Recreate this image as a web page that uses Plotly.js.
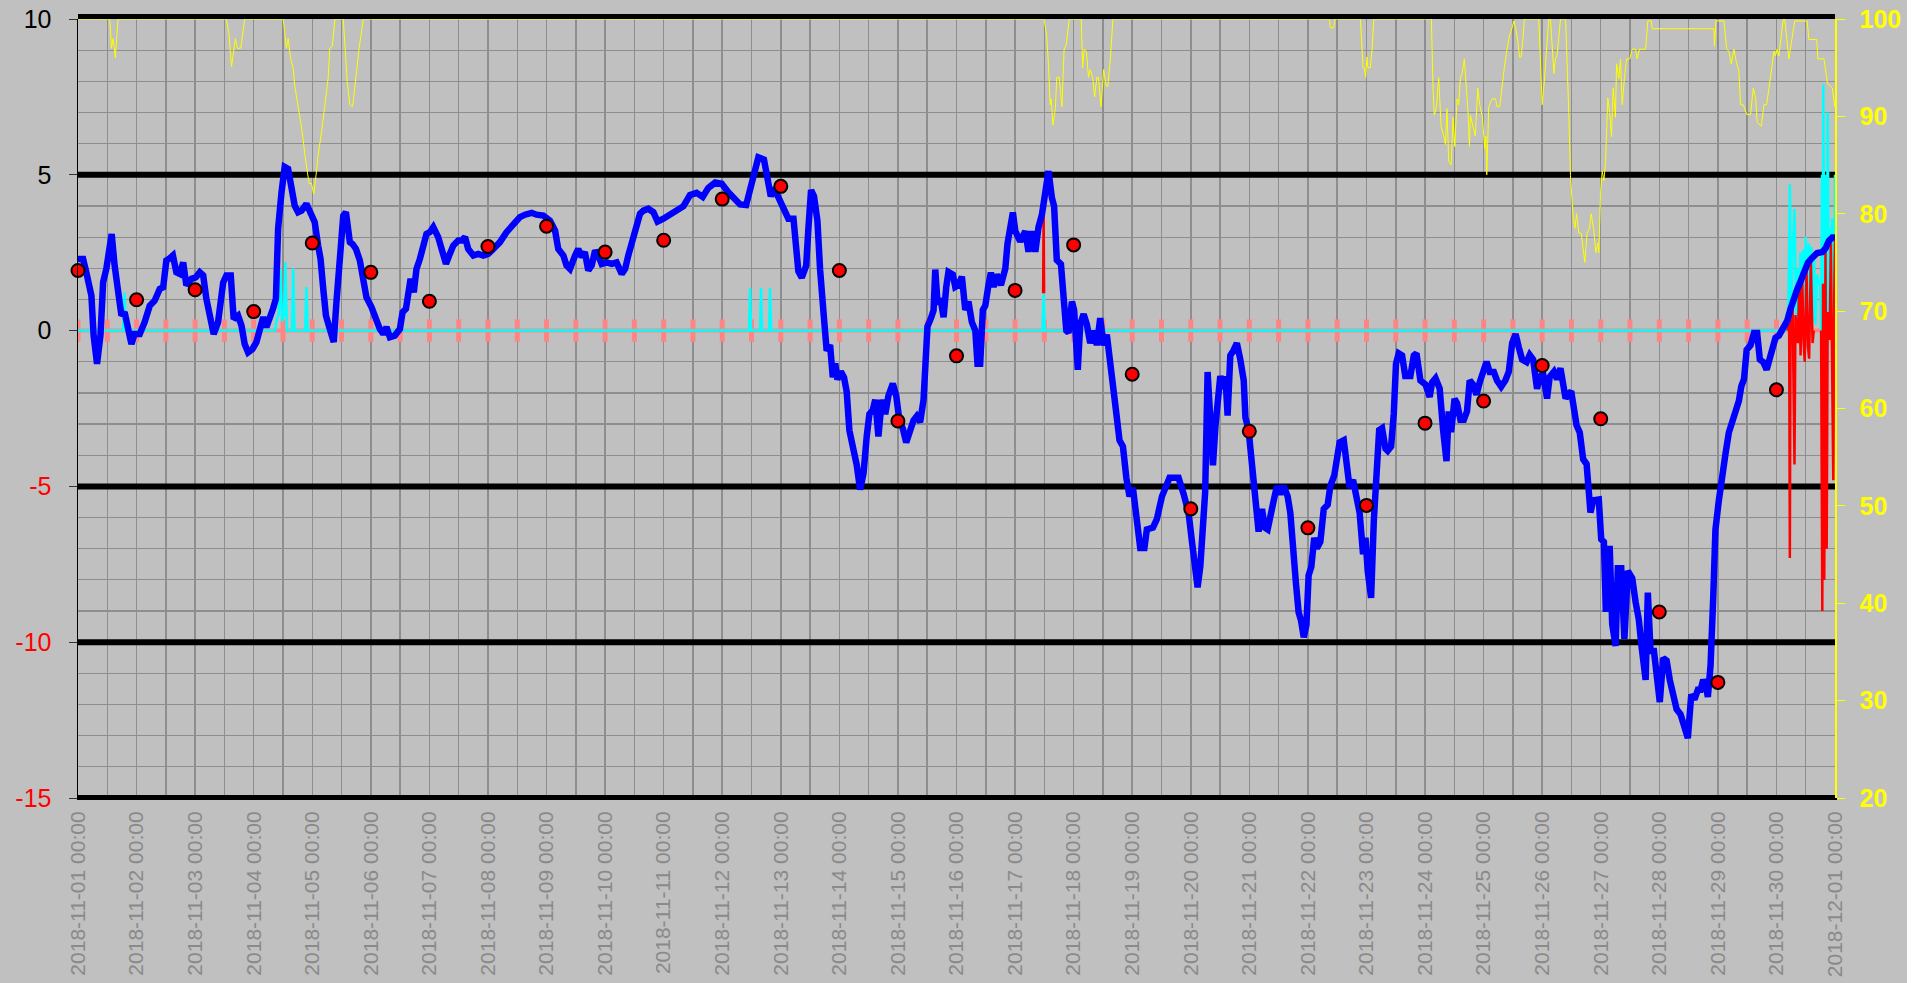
<!DOCTYPE html>
<html><head><meta charset="utf-8">
<script src="https://cdn.plot.ly/plotly-3.0.1.min.js"></script>
<style>html,body{margin:0;padding:0;background:#fff;}#chart{width:1907px;height:983px;}</style>
</head><body><div id="chart"></div><script>
// ---- DATA (hours since 2018-11-01 00:00) ----
const blueH = [0.0,2.1,3.4,5.5,6.4,7.8,9.2,10.3,11.6,13.0,13.8,15.0,16.4,17.8,19.1,20.5,21.9,23.2,25.3,27.3,29.4,31.4,33.5,34.9,36.2,37.3,38.9,40.3,41.7,43.1,44.4,46.5,48.3,49.9,51.3,52.6,54.0,55.6,57.4,59.5,60.8,62.6,63.8,65.6,67.0,68.3,69.7,71.5,73.1,74.5,75.9,77.2,78.6,79.9,81.1,82.0,83.4,84.7,86.1,87.5,88.8,90.2,91.6,93.6,95.0,97.0,98.4,99.4,100.5,101.6,103.2,104.8,105.9,107.6,108.7,109.8,111.4,112.5,113.9,115.5,116.9,118.2,120.3,122.3,123.7,125.1,126.4,127.8,129.8,131.9,133.0,134.4,135.3,136.3,137.6,138.7,140.1,141.5,142.8,144.2,145.6,147.6,149.0,150.8,152.1,153.8,155.8,157.2,158.6,159.9,162.0,164.0,166.1,168.1,170.2,172.9,175.6,178.4,181.1,183.2,185.9,187.9,190.7,193.4,195.5,196.8,197.5,198.9,200.2,201.6,203.7,205.0,206.4,207.7,209.1,210.5,211.9,213.2,214.6,216.6,218.7,220.7,222.8,224.2,225.5,227.6,228.9,230.3,231.7,233.7,235.8,237.5,239.9,242.6,245.3,248.1,250.8,253.5,256.0,258.3,261.1,263.8,266.5,269.3,271.3,273.8,275.4,277.0,278.8,281.1,282.5,283.9,285.2,287.7,289.8,291.1,293.2,294.3,295.2,296.6,298.4,299.3,300.4,301.6,303.0,304.1,304.8,305.7,306.8,308.2,309.3,310.3,311.2,312.6,313.9,315.0,316.1,317.5,319.1,320.5,321.9,323.2,324.3,325.7,326.7,328.0,329.4,330.8,332.1,333.9,335.3,336.6,338.0,339.4,340.7,342.4,343.7,345.1,346.5,347.3,348.1,349.5,350.6,351.3,352.2,353.6,354.7,355.8,356.7,358.5,359.5,360.8,362.2,363.6,364.9,366.3,367.7,368.6,369.7,370.8,371.8,373.1,374.1,375.2,376.5,378.2,380.0,380.9,382.0,383.1,384.1,386.1,388.2,389.5,390.9,392.3,393.6,395.0,396.3,397.7,399.1,400.0,401.1,402.8,403.9,405.0,405.9,407.3,408.2,409.1,409.7,410.7,412.1,413.4,414.8,416.4,417.5,418.9,420.3,421.6,423.0,424.1,425.5,426.8,428.2,429.6,430.9,432.3,433.7,435.3,437.0,438.0,440.5,442.1,444.2,445.6,447.3,449.0,451.0,453.1,455.1,456.5,457.4,458.8,459.9,461.0,461.9,462.9,464.0,465.1,466.1,467.0,468.1,469.5,470.2,471.1,472.2,473.4,474.9,476.3,477.7,478.4,479.7,480.7,481.8,482.9,483.8,485.2,486.3,487.5,488.6,490.0,491.3,492.7,494.1,495.7,496.8,497.9,499.1,500.2,501.2,502.3,503.4,504.3,505.4,506.6,507.7,509.1,510.5,512.1,513.2,514.8,515.9,517.0,518.7,520.0,521.1,522.5,523.9,525.2,526.6,527.6,528.5,529.9,531.0,532.1,533.2,534.4,535.8,536.7,538.1,539.2,540.1,541.2,542.6,543.9,546.0,547.4,548.5,550.1,552.2,553.9,554.9,556.3,558.0,559.4,560.8,561.7,562.7,564.1,565.1,566.5,567.9,569.2,570.3,571.7,573.1,574.4,575.8,577.2,578.5,580.2,581.5,583.2,584.9,586.3,587.7,589.1,590.4,591.8,593.6,594.9,596.3,597.9,599.0,600.4,602.0,603.1,604.8,606.1,607.5,608.6,609.6,610.9,611.9,613.0,614.1,615.4,616.8,618.2,619.1,619.8,620.9,622.3,623.2,624.2,625.3,626.1,626.9,627.7,628.7,630.1,631.0,632.4,633.7,635.1,636.9,638.3,639.6,640.7,642.4,643.3,644.4,645.8,646.9,648.2,649.6,651.0,652.3,653.7,655.1,656.7,658.1,659.7,661.1,662.4,663.8,664.9,666.0,667.0,667.9,669.0,670.1,671.0,672.4,673.8,675.1,676.5,678.6,680.6,681.6,682.7,683.8,685.4,686.8,688.1,689.2,690.6,692.0,693.3,694.7,695.6,697.0,699.1,700.4,701.8,703.2,704.5,706.2,707.5,708.9,710.7,712.7,714.8,716.2,717.5,718.9,720.0];
const blueV = [2.30,2.30,1.87,1.12,-0.16,-1.07,-0.16,1.55,1.98,2.62,3.10,2.09,1.12,0.48,0.59,0.05,-0.43,-0.11,-0.11,0.27,0.80,0.96,1.34,1.39,2.25,2.30,2.41,1.87,1.82,2.19,1.45,1.66,1.71,1.87,1.77,1.02,0.37,-0.11,0.27,1.55,1.77,1.77,0.37,0.48,0.16,-0.43,-0.70,-0.59,-0.37,0.05,0.43,0.11,0.37,0.70,1.02,3.27,4.44,5.25,5.19,4.44,4.01,3.80,3.85,4.07,3.80,3.48,2.73,2.30,1.34,0.48,0.05,-0.37,0.91,2.62,3.69,3.80,2.84,2.78,2.62,2.25,1.55,1.07,0.75,0.32,0.05,-0.11,0.11,-0.21,-0.16,0.05,0.59,0.70,1.34,1.66,1.23,1.98,2.30,2.73,3.10,3.16,3.32,3.00,2.62,2.14,2.41,2.73,2.89,2.89,3.00,2.62,2.41,2.46,2.41,2.46,2.62,2.84,3.16,3.37,3.64,3.72,3.78,3.72,3.69,3.53,3.21,2.62,2.52,2.41,2.09,1.98,2.41,2.62,2.36,2.52,1.93,2.09,2.57,2.41,2.14,2.19,2.14,2.19,1.82,1.98,2.41,2.94,3.37,3.75,3.85,3.91,3.80,3.50,3.59,3.73,3.90,3.99,4.35,4.42,4.29,4.58,4.75,4.71,4.44,4.18,4.05,4.03,4.58,5.10,5.56,5.49,4.84,4.31,4.58,4.18,3.79,3.59,3.59,2.61,1.90,1.70,2.09,3.27,4.51,4.31,3.53,1.96,0.78,0.39,-0.65,-0.46,-1.50,-1.05,-1.57,-1.31,-1.50,-1.96,-3.20,-3.66,-4.31,-5.10,-4.58,-3.40,-2.68,-2.55,-2.22,-3.40,-2.22,-2.68,-2.09,-1.70,-2.09,-2.88,-3.14,-3.59,-3.27,-2.88,-2.75,-2.94,-2.22,-1.18,0.13,0.39,0.65,1.96,0.92,0.95,0.43,1.40,1.88,1.80,1.40,1.46,1.73,0.66,0.93,0.27,0.00,-1.06,-1.06,0.66,0.80,1.46,1.86,1.40,1.80,1.46,1.99,2.79,3.19,3.79,3.19,2.86,3.19,2.53,3.19,2.53,3.32,3.72,4.39,5.12,4.26,3.99,2.26,2.13,1.06,0.00,-0.07,0.93,0.66,-0.66,-1.26,0.20,0.53,0.20,-0.40,0.00,-0.47,0.40,-0.47,-0.13,-0.93,-1.86,-2.66,-3.52,-3.72,-4.72,-5.32,-5.05,-6.12,-6.98,-6.98,-6.38,-6.32,-6.05,-5.32,-5.05,-4.72,-4.72,-4.72,-5.25,-5.85,-6.78,-7.58,-8.24,-7.58,-6.52,-5.19,-1.33,-3.19,-4.32,-3.06,-2.00,-1.46,-1.86,-1.46,-2.73,-0.80,-0.65,-0.40,-0.93,-1.60,-2.79,-3.19,-3.99,-5.05,-5.85,-6.45,-5.72,-6.32,-6.38,-6.05,-5.45,-4.99,-5.25,-4.99,-5.32,-5.85,-7.18,-8.11,-9.04,-9.31,-9.84,-9.44,-7.85,-7.58,-6.65,-6.98,-6.78,-5.72,-5.59,-4.99,-4.65,-4.12,-3.59,-3.52,-4.26,-5.05,-4.79,-5.45,-5.85,-7.18,-6.65,-7.71,-8.58,-6.12,-4.79,-3.19,-3.13,-3.79,-3.86,-3.72,-2.66,-1.06,-0.73,-0.80,-1.46,-1.46,-0.80,-0.73,-1.60,-1.73,-2.13,-1.66,-1.53,-1.86,-3.19,-4.19,-2.59,-3.26,-2.19,-2.33,-2.86,-2.86,-2.59,-1.60,-1.73,-2.06,-1.66,-1.33,-1.00,-1.33,-1.33,-1.60,-1.80,-1.60,-1.33,-0.40,-0.11,-0.53,-0.93,-1.01,-0.78,-0.93,-1.87,-1.48,-1.40,-2.18,-1.48,-1.32,-1.56,-1.21,-1.71,-2.18,-2.02,-1.95,-2.49,-3.04,-3.27,-4.13,-4.28,-5.45,-5.84,-5.45,-5.45,-5.42,-6.70,-6.78,-9.03,-7.01,-7.01,-9.42,-10.12,-7.63,-7.63,-9.89,-7.71,-7.94,-8.72,-9.27,-10.12,-11.21,-8.41,-10.28,-10.28,-11.21,-11.92,-10.51,-10.59,-11.21,-11.60,-12.15,-12.31,-12.77,-13.08,-11.68,-11.84,-11.53,-11.53,-11.21,-11.37,-11.76,-10.75,-8.57,-6.39,-5.45,-4.52,-3.97,-3.27,-2.80,-2.26,-1.79,-1.56,-0.62,-0.47,-0.08,-0.08,-0.93,-1.01,-1.25,-0.93,-0.62,-0.23,-0.16,0.08,0.31,0.70,1.09,1.32,1.64,1.95,2.18,2.34,2.49,2.52,2.65,2.88,2.99,2.99];

const dotDays = ['2018-11-01','2018-11-02','2018-11-03','2018-11-04','2018-11-05','2018-11-06','2018-11-07','2018-11-08','2018-11-09','2018-11-10','2018-11-11','2018-11-12','2018-11-13','2018-11-14','2018-11-15','2018-11-16','2018-11-17','2018-11-18','2018-11-19','2018-11-20','2018-11-21','2018-11-22','2018-11-23','2018-11-24','2018-11-25','2018-11-26','2018-11-27','2018-11-28','2018-11-29','2018-11-30'];
const dotV = [1.93,0.99,1.31,0.61,2.81,1.87,0.94,2.70,3.35,2.52,2.90,4.22,4.63,1.93,-2.90,-0.81,1.29,2.75,-1.40,-5.72,-3.23,-6.33,-5.61,-2.97,-2.26,-1.12,-2.83,-9.03,-11.29,-1.90];

const yelH = [0,13.0,13.7,14.4,15.3,16.4,60.8,61.9,62.9,63.8,64.5,65.3,66.7,68.3,84.1,85.4,86.1,87.1,88.2,88.8,90.2,90.9,92.0,93.0,93.9,94.7,95.7,96.6,97.7,98.4,99.8,101.1,102.5,103.2,104.2,105.3,108.7,109.4,110.3,111.4,112.5,113.0,114.1,115.2,116.2,116.9,395.9,397.0,397.7,398.4,398.8,399.5,400.5,401.1,402.1,403.2,404.1,405.0,406.2,411.1,411.7,412.3,413.2,414.1,414.8,415.8,416.6,417.5,418.2,419.2,420.3,421.4,422.0,423.0,424.1,512.9,513.2,514.6,515.1,525.5,526.2,526.6,527.1,527.7,528.2,528.6,529.6,530.3,531.0,554.6,555.3,555.8,556.7,557.6,558.6,559.7,560.4,561.0,561.7,562.7,563.5,564.2,565.1,565.8,566.5,567.2,568.1,568.9,569.6,570.2,570.6,571.7,572.6,573.6,574.4,575.4,576.1,576.5,576.9,577.3,578.1,579.5,580.9,581.5,582.6,583.6,584.5,585.6,586.7,587.7,588.4,589.1,590.0,590.7,591.4,592.2,592.7,598.6,599.3,600.0,600.9,602.0,602.7,603.4,604.1,604.8,605.4,606.1,607.5,609.6,610.9,611.6,612.7,613.4,614.1,615.0,616.0,616.8,617.5,618.4,619.4,620.1,621.2,622.0,622.8,623.2,623.9,624.6,625.3,626.0,626.9,627.7,628.4,629.1,630.0,630.5,631.4,632.1,632.8,633.7,634.6,635.9,636.9,638.3,638.9,639.9,641.0,642.4,643.3,644.7,645.1,670.4,670.6,671.2,674.5,675.6,676.5,677.5,678.6,679.7,680.6,681.3,682.4,683.8,685.4,686.5,687.5,688.1,689.8,690.9,692.0,692.9,693.9,695.0,695.6,696.3,697.0,698.0,698.8,699.4,700.4,701.1,702.5,703.5,708.6,709.3,712.5,713.0,715.5,716.9,718.9,719.6,720.0];
const yelV = [100,100,97.0,98.0,96.0,100,100,98.4,95.1,97.0,98.0,97.0,97.0,100,100,97.0,98.0,96.0,94.9,93.2,91.0,90.1,88.2,86.0,84.3,83.1,83.1,82.0,84.3,86.0,88.4,91.2,93.9,97.0,97.2,100,100,97.3,93.6,91.2,91.0,92.0,94.9,97.0,98.7,100,100,98.2,95.2,91.2,91.8,89.1,90.8,94.0,94.0,91.0,96.9,97.4,100,100,95.0,96.9,96.7,94.0,94.8,94.0,92.0,94.0,94.0,91.0,94.8,93.1,93.1,95.7,100,100,99.1,99.1,100,100,96.9,95.0,95.0,94.0,96.1,95.0,95.0,96.9,100,100,92.7,90.1,91.0,94.0,88.9,88.0,87.1,90.8,85.4,85.0,89.9,86.9,91.8,91.2,94.0,94.4,95.9,92.7,90.6,86.9,90.1,88.9,88.0,92.9,91.2,90.1,87.6,86.7,88.0,84.0,91.0,91.8,91.8,91.0,91.0,93.5,95.0,96.9,98.4,99.1,99.8,99.1,97.8,96.1,96.1,98.2,100,100,94.4,91.2,93.7,97.4,100,100,97.4,94.4,95.9,96.2,100,100,90.4,83.9,79.7,78.5,80.0,78.0,78.0,76.0,75.0,78.0,78.5,80.0,78.2,76.0,77.0,76.0,82.0,84.4,83.4,85.4,91.9,90.4,87.9,92.9,89.9,95.4,93.9,95.9,91.2,93.9,95.9,95.9,96.9,96.9,95.9,96.9,96.9,96.9,99.8,99.8,99.0,99.0,97.2,99.8,99.8,96.9,96.7,95.4,96.9,95.4,94.7,91.2,91.2,90.2,90.2,92.9,91.9,89.4,89.0,91.2,91.2,92.9,94.9,96.7,96.2,96.9,96.2,98.4,100,100,97.4,95.9,98.2,99.8,99.8,97.9,97.9,95.9,95.9,93.4,92.9,91.4,90.9];

const cyanH = [0,18.5,19.1,19.6,80.8,81.5,82.2,82.9,83.6,84.4,85.0,85.6,87.7,88.2,88.7,93.1,93.6,94.1,275.0,275.4,275.8,279.5,279.9,280.3,283.2,283.6,284.0,395.2,395.7,396.2,699.8,700.3,700.8,701.5,702.1,702.5,703.4,704.1,704.6,705.2,705.8,706.3,706.9,707.5,708.0,708.6,709.2,709.7,710.3,710.9,711.4,712.0,712.6,713.9,714.3,714.7,714.9,715.2,715.7,716.2,716.6,717.0,717.5,718.0,718.4,718.8,719.2,719.6,720.0];
const cyanV = [0,0,1.22,0,0,0.4,0.5,2.0,0.3,0.5,2.2,0,0,2.0,0,0,1.4,0,0,1.37,0,0,1.37,0,0,1.37,0,0,1.2,0,0,0.6,0.1,4.7,0.2,2.3,3.9,0.3,2.0,0.2,2.5,0.3,2.6,0.2,3.0,0.3,2.8,0.2,2.7,0.3,2.5,0.2,1.8,1.4,0,5.0,0.2,7.9,0.3,5.0,0.2,7.0,0.3,3.3,0.2,3.6,1.7,0.2,5.0,3.7];

const redH = [395.5,395.7,395.9,null,700.5,701.2,701.5,701.8,702.6,703.4,703.8,704.8,705.3,705.9,706.5,707.1,707.6,708.3,708.9,709.4,710.1,710.8,711.3,null,714.3,714.8,715.1,715.6,716.1,716.6,717.0,717.8,718.3,718.8,719.3,719.7,720.0];
const redV = [1.2,3.86,1.2,null,0,0.4,-7.3,0.6,0.9,-4.3,0.5,-0.4,1.6,-0.8,1.9,-0.3,-1.0,2.1,-0.5,-0.9,2.3,-0.4,0,null,0,-9.0,1.5,-8.0,2.6,-7.0,0.6,-0.3,2.8,-0.2,-4.8,1.2,2.9];

const leftTicks = [-15,-10,-5,0,5,10];
const rightTicks = [20,30,40,50,60,70,80,90,100];
const heavyLevels = [5,-5,-10,-15];

// ---- helpers ----
const T0 = Date.UTC(2018,10,1);
function toDate(h){ if(h===null) return null; const d=new Date(T0+Math.round(h*3600000)); return d.toISOString().replace('T',' ').slice(0,19); }
const X0 = '2018-11-01 00:00:00', X1 = '2018-12-01 00:00:00';

const pinkH=[]; for(let h=0;h<=720;h+=12) pinkH.push(h);

const traces = [];
heavyLevels.forEach(v=>traces.push({x:[X0,X1], y:[v,v], type:'scatter', mode:'lines', line:{color:'#000', width:6}, hoverinfo:'skip'}));
traces.push(
  {x: pinkH.map(toDate), y: pinkH.map(()=>0), type:'scatter', mode:'lines+markers',
   line:{color:'#ff8585', width:4}, marker:{symbol:'line-ns-open', size:16, line:{color:'#ff8585', width:5}}, hoverinfo:'skip'},
  {x: cyanH.map(toDate), y: cyanV, type:'scatter', mode:'lines', line:{color:'#00ffff', width:2.5}},
  {x: redH.map(toDate), y: redV, type:'scatter', mode:'lines', line:{color:'#ff0000', width:2.5}, connectgaps:false},
  {x: blueH.map(toDate), y: blueV, type:'scatter', mode:'lines', line:{color:'#0000ff', width:6.5}},
  {x: dotDays.map(d=>d+' 00:00:00'), y: dotV, type:'scatter', mode:'markers',
   marker:{color:'#ff0000', size:13, line:{color:'#000', width:2}}, cliponaxis:false},
  {x: yelH.map(toDate), y: yelV, type:'scatter', mode:'lines', yaxis:'y2', line:{color:'#ffff00', width:1}}
);

const gridC = '#8e8e8e';
const layout = {
  width:1907, height:983, showlegend:false,
  paper_bgcolor:'#c0c0c0', plot_bgcolor:'#c0c0c0',
  margin:{l:78, r:72, t:19, b:185, pad:0},
  font:{family:'Liberation Sans, Arial, sans-serif'},
  xaxis:{type:'date', range:[X0,X1],
    tick0:'2018-11-01', dtick:86400000, tickformat:'%Y-%m-%d %H:%M', tickangle:-90,
    tickfont:{size:21, color:'#8a8a8a'}, ticks:'', ticklabelstandoff:3,
    showgrid:true, gridcolor:gridC, gridwidth:1.5,
    minor:{dtick:43200000, showgrid:true, gridcolor:gridC, gridwidth:1.5},
    showline:true, linecolor:'#000', linewidth:2, zeroline:false, fixedrange:true},
  yaxis:{range:[-15,10], tickvals:leftTicks,
    ticktext:leftTicks.map(v=> v<0 ? '<span style="color:#ff0000">'+v+'</span>' : String(v)),
    tickfont:{size:25, color:'#000'}, ticks:'outside', ticklen:8, tickcolor:'#333', tickwidth:1,
    ticklabelstandoff:12,
    showgrid:true, gridcolor:gridC, gridwidth:1.2,
    minor:{dtick:1, showgrid:true, gridcolor:gridC, gridwidth:1.2},
    showline:true, linecolor:'#000', linewidth:1.5, zeroline:false, fixedrange:true},
  yaxis2:{overlaying:'y', side:'right', range:[20,100], tickvals:rightTicks,
    tickfont:{size:25, color:'#ffff00', weight:'bold'}, ticks:'outside', ticklen:8, tickcolor:'#ffff00',
    ticklabelstandoff:10,
    showgrid:false, showline:true, linecolor:'#ffff00', linewidth:1.5, zeroline:false, fixedrange:true},
  shapes:[{type:'line', xref:'paper', x0:0, x1:1, yref:'paper', ysizemode:'pixel', yanchor:1, y0:2.5, y1:2.5,
    line:{color:'#000', width:5}, layer:'above'}]
};

Plotly.newPlot('chart', traces, layout, {displayModeBar:false, staticPlot:true});
</script></body></html>
